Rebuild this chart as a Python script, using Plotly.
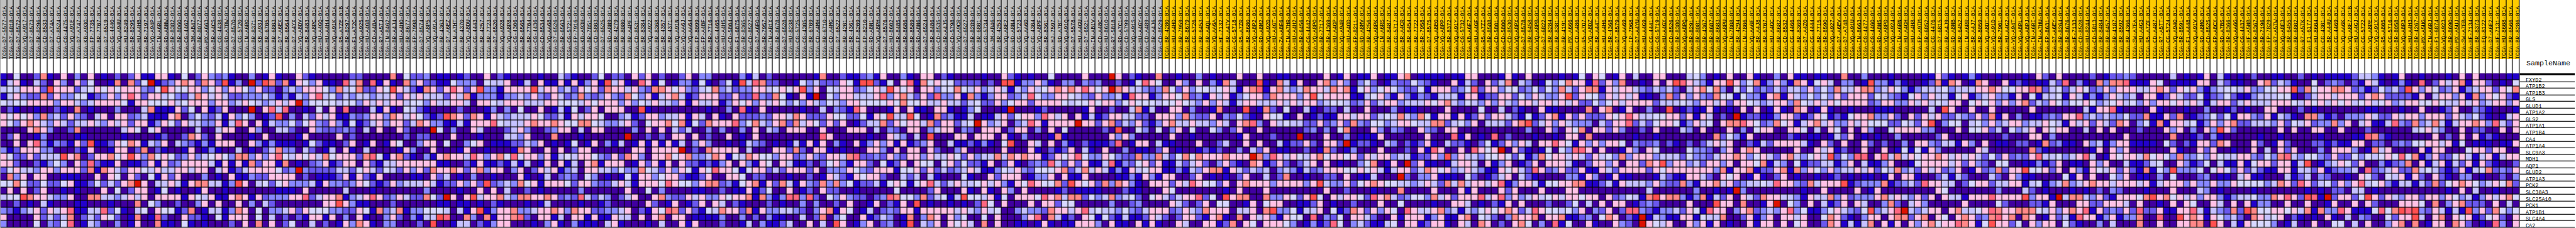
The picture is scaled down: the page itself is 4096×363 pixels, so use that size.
import plotly.graph_objects as go

GENES = ["FXYD2","ATP1B2","ATP1B3","GLS","GLUD1","ATP1A2","GLS2","ATP1A1","ATP1B4","CA4","ATP1A4",
         "SLC9A3","MDH1","AQP1","GLUD2","ATP1A3","PCK2","SLC38A3","SLC25A10","PCK1","ATP1B1","SLC4A4","CA2"]

GROUP_SIZES = {"grey": 173, "yellow": 202}

SAMPLE_IDS = """D7-5577 D7-6818 D7-8572 VQ-A917 D7-8573 BR-8296 CD-8533 D7-A74A CD-8524 CG-4475 VQ-A91E D7-A747 KB-A93G FP-7735 BR-7707 D7-6519 CG-4440 VQ-A94U HU-8249 BR-8295 HU-A4HB BR-7197 VQ-A94P IN-A6RL RD-A8NW
BR-8382 BR-8060 CG-4462 3M-AB47 BR-8077 MX-A663 BR-A4CS CG-4438 RD-A7BW D7-8570 CG-5720 IN-A6RO BR-8371 KB-A93J BR-6705 BR-6803 D7-A6EX BR-6564 D7-A4YX VQ-A8DV BR-8483 VQ-A8PC HU-A4GQ HU-A4H4 VQ-A91K R5-A7ZE-01B BR-8297 F1-A72C VQ-A925 HU-A4G8 CD-A48A R7-A5TJ IN-8462 BR-A4J4 HU-A4H0 BR-8677 FP-7998 D7-8574 VQ-A8P5 VQ-A91A BR-4363 D7-A6EZ IN-A7HT BR-4370 VQ-A8DU CG-4443 BR-4257 BR-7723 D7-6520 VQ-A928 VQ-A8P8 CG-4306 BR-6565 BR-7704 CG-4436 CD-8534 VQ-AA68 D7-6526
BR-6563 CG-5721 FP-7916 KB-A93H BR-7851 CD-5803 D7-6525 RD-A8N9 BR-4279 BR-8080 BR-A4PF CD-8531 BR-8384 VQ-A922 BR-8368 BR-4357 BR-4371 VQ-A91N VQ-AA6J VQ-AA64 FP-8099 FP-A4BF BR-7716 CG-4465 HU-A4H5 CD-5804 F1-6875 BR-8365 CD-8527 D7-A6F0 BR-7957 IN-AB1X BR-8678 D7-6528 HU-8238 CG-5725 CG-4305 BR-6709 CD-A4MH BR-6710 CD-A4MG D7-6522 BR-4201 BR-4361 FP-8209 FP-8210 RD-A8N1 VQ-A8PH D7-8576 HU-8602 BR-8485 BR-8686 BR-8589 RD-A8N6 D7-6524 BR-8486 CD-8535 BR-A4J5 CD-5798
VQ-A9CR D7-6527 BR-8289 BR-6801 CG-5734 3M-AB46 BR-4253 VQ-A8E2 RD-A8N4 CG-5723 VQ-AA6D CG-4304 VQ-A8PF BR-8361 HJ-7597 RD-A7BT VQ-A91Q D7-5578 HU-A4GU D7-6521 IN-AB1V CD-A48C HU-8610 R7-5818 RD-A7C1 CD-5799 VQ-A91S HU-A4GY CD-A489 BR-A4J6 CD-8529 BR-4280 HU-A4HD BR-7959 BR-8679 CG-5726 BR-6453 BR-A4QL VQ-AA6A HF-7132 BR-A4TV CG-5718 R5-A7ZR BR-8680 VQ-A8P2 RD-A8M2 VQ-A92D HU-A4GT ZA-A8F6 IN-A7HR HU-A4H2 BR-6456 CG-4442 VQ-A8PO BR-7717 BR-4369 HU-A4GP VQ-A94R
HU-A4GD FP-8211 RD-A8MV BR-4256 VQ-A8PK IN-A6RS BR-8487 CG-5717 BR-A4CR BR-6454 BR-7722 BR-7958 D7-8575 VQ-A8E0 VQ-A8PP BR-8372 VQ-A91Y CG-5732 KB-A6F7 HU-A4GF R5-A7ZI BR-8588 CD-5801 CD-5800 CD-8530 VQ-A8PX D7-8578 BR-6458 VQ-A8PB D7-6822 BR-8284 BR-8381 BR-4191 MX-A666 CD-A486 R5-A7O7 VQ-A8DZ BR-A44T HU-A4H6 BR-4368 D7-8579 VQ-AA69 IP-7968 D7-A4YU HU-A4G9 CG-4441 CG-5719 HU-A4GX CD-8526 BR-8380 VQ-A8PQ BR-8291 BR-8081 BR-4367 BR-8687 BR-8683 VQ-A8PU IN-7808
BR-4294 IN-7806 VQ-AA6F BR-A4J8 BR-6707 HU-A4GC BR-8682 CD-8532 CG-4466 BR-8369 D7-A4Z0 CG-4444 BR-7715 BR-8590 VQ-A927 D7-A6EV D7-A748 VQ-A91U IN-8663 CG-4477 CG-4460 RD-A8N5 VQ-A8PD VQ-A924 IN-A6RN HU-A4GH HU-A4H8 FP-A9TM BR-6852 CG-4476 D7-6815 BR-A4J9 RD-A8NB BR-6452 IN-A6RR BR-A4J7 BR-8059 VQ-A8DT VQ-A91D BR-7901 HU-A4G2 VQ-A94T VQ-A8PL VQ-A8PJ IN-A6RI IN-A7HU FP-8631 D7-A6EY BR-8264 BR-8676 HF-7133 CD-8528 HU-8244 CD-5813 BR-8484 BR-6457 BR-4187 BR-8592 BR-4366
SW-A7EA HU-A4G3 R5-A7ZF CD-A487 R7-A5TT CG-5724 VQ-A94O BR-8591 F1-A448 VQ-A91V RD-A8MO CD-8525 FP-A8CX RD-A7BS BR-8366 VQ-AA6G CG-4437 HF-A5NB BR-8367 BR-7196 FP-7829 R7-A5TW VQ-A8E3 BR-6455 BR-6802 R7-A5TK F1-6177 HU-8604 CG-4301 BR-A44U CG-4469 VQ-AA6K VQ-A8E7-01B HU-A4GJ CG-5722 VQ-A8PE VQ-A91X R5-A805 CG-5716 BR-8058 VQ-A8P3 HU-A4H3 BR-4267 MX-A5UG IN-A6RJ F1-6874 VQ-A923 BR-8690 MX-A5UJ SW-A7EB HF-7134 BR-8373 EQ-8122 D7-A6F2 HF-7131 HU-8608 BR-6566 BR-8286""".split()

# Cell levels, one letter per cell, by crop of columns:
# B blue, I indigo, M medium blue, P periwinkle, L lavender, W pale, K pink,
# S salmon, R rose, E red, D dark red.
PART_A = """BIWIIMSBIKIPIKIBIMIMKBBKK
BLKBILMIKPIKMWIIBSISMWDBM
LWLKKKMEKKKMLWKWKWKKKPMWE
BLKPMMSMKPPWWBMPKPKRKMKKL
WLWWKKKKPKKLPLKKKKWBKKWWW
IMBIIBIIMBISIBIIIPIIILSBB
KWKWKPSPLMKPMILKIKKMPLBBB
KWPKSKLPKLMLLKLPKLKMKKBPK
IIIIKSKPIIMSIIIIIILKWIWKI
IMKIIBPIIIIBBIIIIIBIIIIBM
IIKIKRPBPMBKMEBBMKWSKBLPK
PBMKKKPPIIIMBKIIBKKIMSIMB
KWMMKMLLLEKSIMKKSWKEKPSWK
KKMIIMBPWPIKMRMBBKIBBMKBK
MWKLLPKKPKKKMSBSKLMKKWLKL
ISPKIKKIIBBBIIKIKWIKMIWBK
WWSWMMWMMWKBBMWMLMKSDKILL
IKIKIMKIIBIBIIIKIWIMKKIBW
LWWESKKLPPKIISSLLPLKLKIKK
IIMIBILBIIIBBIIIBIIISIWPI
PMBPLKMKLKRBBLLRMWBILWIKW
KIIIIKMLMLSIMLMKWMIBSIBRM
PIIIIWIPMWRIBLPIIPIBKIISB""".split()

PART_B = """BIWIMKPMPBIIPIBKBIIKMBIIIIIMMIIIISIWMMPIBBIBMIIKIMBIIIIBII
PKSKMSKMEBPIDMESMSBKWPKBBIRLSIRBKBISPKMMBBWPPPIWLLKIBLIKBB
KWWKKPWKPKKWPKMMIPLPKKKWPSLWSMMKWEKLMBSKMKRKMKEPPBKKKKELKK
WPMLSKLKLMMPPPLPBPBLPKRLWMLPLLPLLKMKLKLLLMKLSBPPPBPPLPKPMK
KLWKKKPKKPLKWLPLKLKDPWWWWLWWPKLKLKKLWWPKLLKKLIKKWLKKKLLLKK
BKMWIKBMKIIIDIKRLRIIBIWIKIRIIILBKBIWLMBIIIIMIIIBPIPIWIIKIB
KSIPWPMLBKPWPIBMEIPILMKLKBBPMPKKPSKLKWMBMESKMSKBKLPLLLKWMM
WMKLLPPKBLRKIKBLPPWMWKPMKPBWBMLKPKKMLSKPPBBLBKKKRWLLLKSKKS
IIIILIILKKIIKPIILLMIIKPMMMPMILIKIIKMIIIDWIPIIKLIIIMLKPIIMP
IIMSKMIKIIIIBIKIIIIBKIIIIKIMIIIIIIIMIMMIIIKIIIBIIILLPKIIIS
ILPMBPBKKKIIKPBPBBBIBWMBBIMKIBKIBKWIIPKKIWIIPWKIBBBMMLPKIB
IIBKIBPBIILIBIMLSPPILMIBLIKBILIIIIBKPIIKIIIBKIIBIIIBSKIIKI
WMPKPLWKWPSSPKPKRWLKWKLSWKKKMSRWBKSMBIPBKSKKLRKPKSWRWKKPKB
MPKKKKLBKBKBSMKKBSIBIMPKBMKKIKMBLLKKKKKKBBIIMBKBBMBLBLIBKI
LKKLKKILKBMLKKKKWMPDPMMMMLLMWKLMWLMKPKMSKKSKMKSPKKIPKIMKLK
MKIIIPIBIKBBPMMKKKKIMIBBBMKBKMBKIIIIBBIKMLIBIPIIBIIIKBIBLI
KLBKSSLLBPEKILWMWKPPPLBKPPMPKWMBMKPLLLKLBMMKPKMEMPLPSWKBKK
IBIIBKIIBIIIIIIIBBBIKIIIIILIIIBIIIIIIIPIIIIBIIKIKILIIMIBII
KKBKWLKBBKSKBKMPPPKKRMLKKSBPLKRKMPKLMMSWMDKIKELKKSLPSSKKSK
IMIIPKIKIIKIPILMIIIIIIIKKEKPBBIIIMIIIIIIBBIBBIBIMBIIIBIBLI
WBMSIBLLBPSKIWIPPLKMKWWWPPMMKWBSPLSBPPWWWLILBKEBPKKSPPLKKS
IIKMMBIWBKKKIWILIMIMBKKBKIPIKBIIPKMIPBLLERIISPISBKKSRMIKKB
BIWBIBIIIMIKISIKIMWIILIMIBKPSKBIPPIIIMIEIIBLLIMBPKKIIIBIPK""".split()

PART_C = """LMBIIMWIMMIKMKIMIIMKIPPIIIIPBLIMIIIIIIBSIIMBBMPBKIIPBIKKIMB
KBKBPKBELKBIRKBWIBPPBWBIMWBELRSMMIIBWPLMMMKWBEEMBWIKRBSWKWW
PLMKWKMSKKLKPMSSKWKPMLWSPLMPPKKLWKWKEPKIWLKKMPWKLEKWKIKKPWW
LMPSPMPKPMSWPKBLKSLBMKKKMMKMMRPMSWBIKBDIWPKKLLLKRPKSLMKMRPP
WWWLKWKKKPKPWLKLLPKBKLLKBPKWKPKLKWPWPKLPWLPKKWWWWKWSWWKLLKL
LBWIMKIKKKIIEBIIIIIIIIBIIPIRBIKIIIIIBIILIPMBRKIIIBKIKBBIKKB
LBKLKKWIIPLBMKKPLLKBKLIKBIKMMMPMKKLSKMMMKWWMMWBKWELLEWIBSMP
KWWSSWLPPLKMIWKKSWSBWMSKKKRPWSLPKSMSLKWMKMKIBMLLSMKWKKLSMKK
KKILIKKIIIIPIKIKILMLIIPIPIIPIKILPIKKKIIKIIIKKKILIPMIKKIPLKK
IIIBIIIIIIDIIMIMIKKIKIMIIKIBIKIIIIIIIIIRKIIIIIBIIKLPILIEIII
IBWIBKIPBLIBKBKBKBLIPKPIIBIBLPMIBIBLBKBKIPBIKBPKPKBKBMPKIIL
KIMKKIIIIIIKKIKKKKDIMISKKKKILIIIKKMSMIKKBIBIIIKKPIKIKKIKMII
LWLKKWPMKMSKPIKKSWKSPPLSKBWLSKWWPKKMPKPMKKLSRMMPMKPMKKPKLLK
KBLIKSBKKKIBKMKBKIKMMBMBPKIKPBKWIKLBBMIMWKPBKKMIWBMKIKWWIWK
BPLIKKLLPWPPSWLMKPKWBKWRKKWBWKKMLMKKKMKIPPPKWPMKKKBWWKMKMLM
MPMIWPIBIBWBKKPWKKMBBMKIIKKWIMMIIIBIIMIBKLMBKWKKMIILMLILBII
KWMKKPMMLKLBKKKWRKWWPKSSMPBWKSBKMSLBKPMSPSPWBMMLBWKWBWKRLML
IIIPIIIIIIKIIWIPIIIIBBIIMIBBKBMWIIKIBMIKMMIIBIIIIIWIIIIMKII
MPMRLMLPIMLKIIKSPMMKLKPPKWKKSBSPBPRRPRMIWPKPMMIMPRSWWPSMLWB
IIIBIIBMIIIIIKMIBKIBMKIKLIMBIIIMIBIIPIPIIMIKIIBKIMBKIEIBIIB
KPSKKMMPPLKIMBKWRSMKMBWLSKKMSBKPPLLPMIPKSBKWIBLIMPMKKBKKKKK
LIKKBKBBKLLIKIKSIKKIBBBBPIIPIMIPBBIILIMSIPWIIKBMLPIBSIPSKIK
BIPBBBILKBIIIBILIIKBKIIIMIIBLIPBBMLIIKILIEKIBPKIMPIBEILPKIK""".split()

PART_D = """IIIIBIIKMBIBIIWIIIIKIIIDKIMBIISIIBIIPIBIIIKIIKIIBBIIIIIKIB
MMMMIMIEEBPPKPBIPPIPMPIIMIBWRKWIIKPIKIPBSLIIIEBISLBKIIKSPK
SWLKPLKLBLPKLWKSKSKRKWKDSKLLPMPSWMKPWWLWKLBKSRBKSLPLSKKLSK
KBSPBPKKMPLRWPPKKWLPMKPPLBRKKBPKKWSMPBKLKBPWKKMSKKKPKEWKKK
LMLWMMKPWKKMKKKKWLWWKWKKPWKWWWLWWKWLPKPKLBLKKLLLKLKLKKPLWW
IBPWIIIBDIIIBMIIIIIBKIIMIILSBLIIKKIPIIBSIIIEIBSMIWIILBIMMI
BBLIBBLKMWKKPRKLKIKBLBMKKLLMMIKKKPSPMMKIPMWMBIKWWBIKIBMBBK
MLWDKPLKIPLRKBKKKKDKKMKSMLPKMBPKSLLKLLPKLIKSRPIKLWLLMMKMPK
IPMIKKKIMKKIPIKIWIIIIIMIEIIWPIWIPKIWIIWPIMKIIKIIIIIIMPIPIW
KKIKKKIKBIPIIIBSBIIIIIIKPKPIIIIIKIIBIIIIIIBKIIIMIIIDIIIKII
BBMBPBIWEIIKLIKIPBIMBBBMRIBKKILBBIIIKIIMLIIKIKIILBMMKMIKKM
PKIIIIIKIIIKBIMBMKILBIKIIPIBBIMKIBIIBMBMIIPILMKIBBIIMIBSMI
WMKPLLSLSKSKKBMKWKRWPPKWPMMSPPSLMWSWSKKKSKKKDSPRKLKWLKSWKK
MWMMBKIMKBIMPMRLMKMKBBLRBPMWKMKBBLMLKMIPKMBISKBMKMIMLKIKIB
PLKLBBPWLKPMWWWKSMLSLKLBPBKLWKKBBPBLPKSSBKLMLPLIPLPBLMPKKK
IWBIIKMKKKIBPPKIKBBKIIIIBBPBKPBKKIIMKIBIBIMKIILIMSIIBIIMMI
KLLWKLKPBKWRKWWSMEKWKMSPSKPBIKKKMKLRKWWMKIKSKKKPKKKKPKELPP
IKBIKBIKPIKIIIIBMIBBBBIIIMBBIIIKWIIIIIIIBIKIIIKIIIIIIIIKII
LEWWLKBWIKKKWRKSLSSMWPLSPLWMIWKLMLKKRMWIEKSSIISPPKWMKEWIKL
IBIMRWIKIIIKIKKMWWIIIIIPIIMPIIIIKLMIMKIWWIIBKIWKKIIBBMKIBI
LKLPKLWIIPLPPMSKKLKRLWLLPWPMLKKKMPKLPSKKKILLKISEPPWBLLKIWB
PWIIWIKIIIPKRISLBMIKWBWMBLBBMKLMIMKKMBKSBISIKLKPBKWWIRIPMW
WKLISIKIIBBIBKBIBBKKKPIKBBIKBKBIIKLIIKKBMSIKWIKKKWPIBPBMRW""".split()

PART_E = """KIBBKIBBKSIBBBBIBBKKIIIBKBIKIIIIBIBWIKWIBKILIIKKIIILWPIBIK
PIPWMIBPMMWPMBIIKBLMIKMLSILPIBWPWSKKBRMKPSIIBIKIKERKLPBKKE
SBWKPWKWPMMWBKKKMPWRMKKPWWMPWMWPSLMKSSBKLKKLPMLPLMILKSWSPI
KBBLWKPBKPBPMBLLLBKKBMMKKMWPKLPPKEMKWWMKLKLKBBIPSMKPKPMSWW
LMPKMLKKPLLLKWKSLPWLPKPKLPKKLKKLKLKMMWPWKLKKKKMLLLWLPKKLKM
LIIKIIIPIBBIIIIKIIIIWIILIMBIIKBBIIIISIKSIBKIIPIIEIBMBBKBIB
KLKKMLWLSLPSWBKKBKBMKMKKLMBWBMKSBKMKMMMKWKRKLLWWKKMKBKLIMI
MSPMWWPLKKWLLSSMLWPKILLLMKSEMLKPKLPPPILMKKRMLMWKKWBPKLWIKS
SIIIKPIPMIIKPMIKKIIIIIIIIIIPIIKMIKWSIKKMKPIIMIKIIILPIKIIIK
PIBBBKIIIIIIKIIIRBKIBIRIMIIIBIIBIKKISIIIIIIBIIBIIIIIIIISMW
DBMMBILPIMBMKBILMMBIMWBMKPKLIKKRKWBKPKPKKWIPMMPIMBIMIMLKLK
BPIIIKIIIMIKBRKIIKIRKWKDIKMBIBWIWPRRKIKIIBKPIKWIIIIWPPMIPK
WKMKLKKPLLBMMKPEPKLLPWWKWMWBPSWKKLKLMKLWPSPKKKPLLLMWPPMLKK
IIPWSIBKIDMKBBIBLKKLIKBPKIBMKIKKKLBIMKKPKIKKMSKEPKKPLMKKPK
WWKWKLBLKKMLSKWKPLKLPBBKWKLMRKMPKMMKBBKLMKKKKMKWKKKKKKKPSB
KIBBLIIIDMIPPKBBBIWMIBMLKILMBIIIIPPBKPIBKBBIIIBLMBBKKLMIKW
KMWKSKWWLLPLKLMSLSLKKLKRBPKKLBWWKKSSBBMLBKLLLPKPMMSPBKKSLK
MIIIBIIISIIIIKIIIKBKIIIKMKIIIKIIIKKIIIIIIIIIILIIIIIIPIIBIB
KKWMRKSLMPWWPSLKMKKKRLKRPKPLKLWKLKKWKKIKMPWLBSEKSSPBPSBLMK
IMIIIKIIWIIIIBIIKKLIBIMBKIKIIIMIIMWILIKIKKIBMPMIIIIKIIIEKK
MSKMKPKWIRKLLKSPLBLPWKWKSKMLRKWWLWPKIPMKIMRRPMBPPLMKWBRKKI
IKKLMIIKBKKKBPKBBKSIWLMIPSKKSIKKSBBMPIWSKIMBDBLPBBKKBWLLSI
IPLMBBLWIKKBMKKBIKLISKIMIKSWIPIRBWIIKBIIKPMIDKWLKIIKPKBKIB""".split()

PART_F = """IIKBIIPIKBBIBBIISIIPIIIBIIIIBBKMBIBPBIIBIIIBIKMIKIIIIMIBMMP
KPWSBPKPBSKBWKLIPPIBEPPBPBIIBMSBSKIBSKIIKBMBIBBLMRIPBISPSSR
WMWMPMLMLLPKPWPSLLKSSPLKWPBPLLLWPLLLKKSKWWKKRSMLWMLKWMPKPKK
BWPPBKSBKLPWPWPKMKKKMWLPMBWKPKLLBWKBPLKPPBKIWBLLWBKLBPBPKLP
KKWLPLKKPSWLKLKWKKKKMPKKPPKLKLWLKKIWKWKPKPKSMLPKWPWWKWPLWKL
IKIKIBKBISKIBKBIIBIIIBBBIIIIILIEKIIKIIKIIIIIKIIIIIIILBKKRBI
DBMMBBPKKMBMKWBMBWKKSPPKMIKMKLKMMLPMKMSBKIPIBBMPMKKRPLPLPPW
SRKWMPSWKBLKSLKPPKLKWWWMMWLMKEIPWWILWPKPLKKPLLKWLBKLKMKLMSK
IPIWKKIIKKWILIKWIKIKPIIWKKKKPPIIIKIWWKMLIWPLKIKWKKIILIKIKII
PBKIIIIIMBIBBIBLMKIBIBIIPIIIIIMKIIIIIIIIMIIIKKIPIIIIIIIIIIK
IIMBLMKKKKLBIKMIKIIKMIMIIPIKKPMLLBKPIKIBBIMMIBSMPBBIKPLBPKK
IKSKIIIIIKIIKLKBMIIKIIKIBWBWBKPIIIIIKLIIIIIISMBIIIIIIBKIKPK
SKPWKLMKSLPWKLEMWPRRIKRLSLKWKKSKLKLKLMWMKMPMKRLLWPLKRLIBKWK
IKKWSBLPIWBMMLLBPKILBBPKIIBWKKKKLKMKPMIWWIIBBPBMKIBBIKPKIIL
KKSBMMKSBSPKWPKPLLKLKMWLSPLMKLKMPKIBKMPSMKKEWWKMKIKPBKWLKMK
KIBKBIMKIBIIBIBMIBIBBIBKIKKBIIMLBLMIIILMIKPBBIIIIWBKIKIIWPK
MPLLWLRKKPMSLKKKEBMPPPSBMPLMRKKLLIMWKKMLLKKBLWBPLSPLKSKKLKK
DPIIIIIIIIBIIKIIIIKIBKIIIIIIIIKWIIIIIIIPIIILMIBIIIBIBIMIPMI
IKLMSKKLLPBKLLSPKMPPPKSLKLPKMKIKLLBKKKRKKKKEPKKBDLSSLPKMBKK
ISIIBKDIWPIKILBMKIKLIIPSMILKPIIIIIKIIIIWMIIIMMBKIIIKKMMKKKL
PKSMPLPKRPWBBPWKLPMWEPLKRDLPLKKIKSLLWKRSKKSSSWLKPKSKRBKMPMK
IMKBPKIKKLKIIWSKMBIPKKIKSSMKSIKWIKSKMPSRKSISKIBKMLBRKKBPKBP
IIKBKKIKIWKIIMSKBLBLSIKBKIKPKSWKKRSKBWEKKMWIKPKKIWMBIIPILII""".split()

PART_G = """MIIIIILIBIBKILBIBIMIIBBIIMIBIBBBBMLLPBIBK
BBBKWIBBBBKKILMBBIIKSMLPBIIWIMPMIMBKLBIBP
KLLKSKMKWKPBPLWWLKPPWWKKEMSWKKSSKMPBMWPLM
LIKKBMKLMMWBMPWMBBPLLLWWBIMLKKLKKKMKSKMMM
WPKPKKWKLKLBLKKMLKLLLKKKWLKWKLKWKLWKLWKPL
IIIKBIIIBIIPIIBMIBIIKKIIIMIBIIIIIIIBBIIIB
MMSBBKMSIBMPWMWBKKPMKBLPBISSPBMIPPPKLMMKL
IPWBSBKKLWBPKPKSMMLLLPKMWLKMPPSPKILKBBLRP
IMIIIKPKIPIKPEKMIIIIIIKIKIIKKIIKIIIMIIIII
IIIIIISIIBMIPBIIIIIBIIBIIIIIBIIIIBBRSMBII
BBBBIWMIMBKKMSKIIIKMIBKMIIIMMBMBBKKIMMIMP
IIIIIIKBIIKMKIIBIIKILIKMKIIIPIKKKPIBSLKII
KLSWKWPSPPWPKWLLKKPMWPSRLPWWPMKMMWPWLWKWR
BBMLWIIKPBMWILBBKBWKKMKKBLEIBPLKWMKIIPBMP
MBSBWPEPPPWIWKWMKMLMBBKKBLLMKBMPPLIRMPLKM
IBBIPIWIIIMPIBBILKBBIIILBMLIPMIIBIKWMIWLK
KLKBLKKKPKPPKPPKWWWWPLSKMRKMLWMKPKRLWKPBL
IIBIIIKIIILPIBIIIIBIIIIIIIBIBIMMILLIBIIII
KWSEKSWKLKPKKPBPLLWPPSKRKMERBDMKKMWEKMKLP
IKIIBIKIKWIIKLIKIKBPPIIKIIKIIBKIIKIKMIIIK
MRMMKBBKKRLBLPMSMESWWKKWKLSBSPPRKBBBWRWSE
PSIIRIIEKSKBKWPLMISKLWKIMBIBIKBILIPMIIWMK
ISIIKIIKKSSIEKILBKWWWPIBLIIKIIWWILIKIIPKS""".split()

PART_H = """IIBIIIBIKIKIIIIBB
BIRIMKLKSBKKMIBIW
EKPKWMPKBPLKKMKWS
MBKILKKPKBSPKWKMB
KKWWKWLLKLKPLKKPK
IIKIIBMKIIPMBIIIB
KKPKKKMKLPWMBIBLK
MSPLSLBLKKSKPRLMK
ILWKLPIIKIMMIIKIK
IIIIKIMIKIKBMBIII
MWWKKLKBWIBBBIBBK
IIKBKKIIIWKKMKKII
WSBPKMMWKLBLKBLKK
SIKBLKBLMKBKMBIIM
MSLWLMBMKBLWSMPMK
BKMIKMBIPPIBIIMIP
LBLMSMWKSKWPLKWSM
IIIIIIBIKILIIBIII
KKMKKPKWPLBPKLKSW
KKWISIPKSMMMIKILI
REPMKLBLBEPKMSWPW
KELIKSIKWKBMWKMIK
ISIBKKISKMIBIRPIK""".split()

LEVELS = "BIMPLWKSRED"
COLOURS = ["#2200CC", "#4000A0", "#6A58EE", "#8888FF", "#C6C2FF", "#D8D8FF",
           "#FFC2E6", "#FF8888", "#FF6680", "#FF5050", "#DD1100"]
HEADER_COLOURS = ["#C0C0C0", "#FFCC00", "#FFFFFF"]

PARTS = (PART_A, PART_B, PART_C, PART_D, PART_E, PART_F, PART_G, PART_H)
rows = ["".join(p) for p in zip(*PARTS)]
assert all(len(p) == len(GENES) for p in PARTS), [len(p) for p in PARTS]
bad = [(i, [len(p[i]) for p in PARTS]) for i, r in enumerate(rows) if len(r) != 375]
assert not bad, bad
assert len(SAMPLE_IDS) == 375, len(SAMPLE_IDS)

z = [[LEVELS.index(c) for c in r] for r in rows]
labels = [("TCGA-" + s) if s.endswith("-01B") else ("TCGA-" + s + "-01A") for s in SAMPLE_IDS]
xs = list(range(375))
n = len(LEVELS)
scale = []
for i, c in enumerate(COLOURS):
    scale += [[i / n, c], [(i + 1) / n, c]]

RW, RH = 4599.0, 408.0
GRID_L, GRID_R = 0.67 / RW, 4500.67 / RW
TOP, BOT = 1 - 131 / RH, 1 - 407.5 / RH
BAND = 1 - 106 / RH
GAP = 1.2

fig = go.Figure()
fig.add_trace(go.Heatmap(z=z, x=xs, y=GENES, colorscale=scale, zmin=0, zmax=n, showscale=False,
                         xgap=GAP, ygap=GAP, hoverinfo="skip", xaxis="x", yaxis="y"))
g = GROUP_SIZES["grey"]
head = [[2] * 375, [0] * g + [1] * GROUP_SIZES["yellow"]]
fig.add_trace(go.Heatmap(z=head, x=xs, y=[0, 25, 131],
                         colorscale=[[0, HEADER_COLOURS[0]], [0.5, HEADER_COLOURS[1]], [1, HEADER_COLOURS[2]]],
                         zmin=0, zmax=2, showscale=False, xgap=GAP, ygap=0, hoverinfo="skip", xaxis="x2", yaxis="y2"))
fig.add_trace(go.Heatmap(z=[[0] for _ in GENES], x=[0], y=GENES, colorscale=[[0, "white"], [1, "white"]],
                         zmin=0, zmax=1, showscale=False, xgap=0, ygap=GAP, hoverinfo="skip", xaxis="x3", yaxis="y3"))

fig.update_layout(
    width=4096, height=363, margin=dict(l=0, r=0, t=0, b=0), paper_bgcolor="white", plot_bgcolor="black",
    showlegend=False,
    xaxis=dict(domain=[GRID_L, GRID_R], range=[-0.5, 374.5], visible=False, anchor="y"),
    yaxis=dict(domain=[BOT, TOP], autorange="reversed", visible=False, anchor="x"),
    xaxis2=dict(domain=[GRID_L, GRID_R], range=[-0.5, 374.5], anchor="free", position=BAND, side="top",
                tickmode="array", tickvals=[x + 0.15 for x in xs], ticktext=labels, tickangle=-90, ticks="", showgrid=False,
                zeroline=False, showline=False, tickfont=dict(family="Liberation Mono", size=8.8, color="black"),
                ticklabelstandoff=0),
    yaxis2=dict(domain=[TOP, 1], range=[0, 131], visible=False, anchor="x2"),
    xaxis3=dict(domain=[GRID_R, 1], range=[-0.5, 0.5], visible=False, anchor="y3"),
    yaxis3=dict(domain=[BOT, TOP], autorange="reversed", visible=False, anchor="x3"),
)
for g_name in GENES:
    fig.add_annotation(x=4510.7 / RW, xref="paper", xanchor="left", y=g_name, yref="y3", text=g_name, showarrow=False,
                       yshift=-2.5, font=dict(family="Liberation Mono", size=8.5, color="black"), borderpad=0)
fig.add_annotation(x=4510.7 / RW, xref="paper", xanchor="left", y=1 - 114 / RH, yref="paper", yanchor="middle",
                   text="SampleName", showarrow=False, font=dict(family="Liberation Mono", size=11.7, color="black"))

fig.write_html("out.html", config={"displayModeBar": False}, post_script="document.body.style.margin='0';")
